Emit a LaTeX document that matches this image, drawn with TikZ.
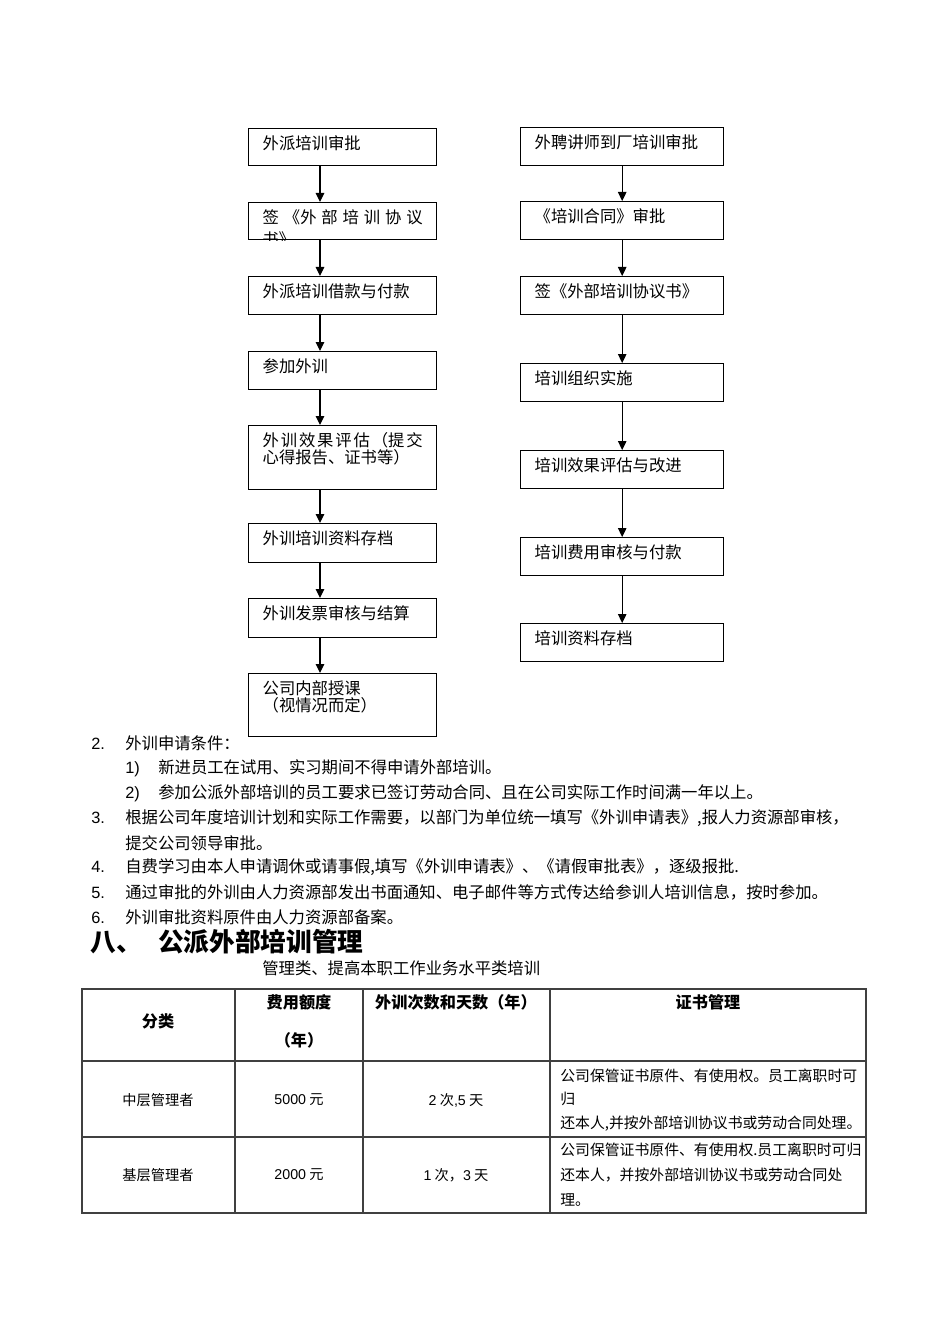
\documentclass[tikz,border=0pt]{standalone}
\usepackage{fontspec}
\setmainfont{Liberation Sans}
\newfontfamily\cjk{Noto Sans CJK SC}
\usetikzlibrary{arrows.meta, positioning}
\tikzset{
  box/.style={draw, line width=0.8pt, anchor=north west, inner xsep=0.28cm,
    inner ysep=0pt, font=\cjk\fontsize{9.3}{9.7}\selectfont},
  arrow/.style={-{Triangle[length=0.18cm, width=0.17cm]}, line width=0.7pt},
  body/.style={anchor=west, inner sep=0pt, font=\cjk\fontsize{9.3}{11}\selectfont},
  head/.style={anchor=west, inner sep=0pt, font=\cjk\bfseries\fontsize{14.6}{16}\selectfont},
  cell/.style={inner sep=0pt, font=\cjk\fontsize{8.1}{10}\selectfont},
  hcell/.style={inner sep=0pt, font=\cjk\bfseries\fontsize{9.2}{11}\selectfont},
  cert/.style={anchor=west, inner sep=0pt, font=\cjk\fontsize{8.45}{10}\selectfont},
  grid/.style={line width=0.8pt, color=black!75}
}
\newcommand{\boxtxt}[3]{\parbox[c][#2][t]{#1}{\rule{0pt}{0.41cm}#3}}
\newcommand{\lnum}[2]{\makebox[#1][l]{\rmfamily #2}}

\begin{document}
\begin{tikzpicture}[x=0.02cm, y=-0.02cm]
  \useasboundingbox (0,0) rectangle (950,1344);

  % outside training
  \node[box] (l1) at (248,128) {\boxtxt{3.2cm}{0.74cm}{外派培训审批}};
  \node[box] (l2) at (248,202) {\boxtxt{3.2cm}{0.74cm}{签\hfill{}《外\hfill{}部\hfill{}培\hfill{}训\hfill{}协\hfill{}议}};
  \begin{scope}
    \clip (l2.north west) rectangle (l2.south east);
    \node[body, anchor=base west] (l2b) at (262,246) {书》};
  \end{scope}
  \node[box] (l3) at (248,276) {\boxtxt{3.2cm}{0.76cm}{外派培训借款与付款}};
  \node[box] (l4) at (248,351) {\boxtxt{3.2cm}{0.76cm}{参加外训}};
  \node[box] (l5) at (248,425) {\boxtxt{3.2cm}{1.28cm}{外\hfill{}训\hfill{}效\hfill{}果\hfill{}评\hfill{}估\hfill{}（提\hfill{}交\\心得报告、证书等）}};
  \node[box] (l6) at (248,523) {\boxtxt{3.2cm}{0.78cm}{外训培训资料存档}};
  \node[box] (l7) at (248,598) {\boxtxt{3.2cm}{0.78cm}{外训发票审核与结算}};
  \node[box] (l8) at (248,673) {\boxtxt{3.2cm}{1.26cm}{公司内部授课\\（视情况而定）}};

  \coordinate (lx) at (320,0);
  \draw[arrow] (l1.south -| lx) -- (l2.north -| lx);
  \draw[arrow] (l2.south -| lx) -- (l3.north -| lx);
  \draw[arrow] (l3.south -| lx) -- (l4.north -| lx);
  \draw[arrow] (l4.south -| lx) -- (l5.north -| lx);
  \draw[arrow] (l5.south -| lx) -- (l6.north -| lx);
  \draw[arrow] (l6.south -| lx) -- (l7.north -| lx);
  \draw[arrow] (l7.south -| lx) -- (l8.north -| lx);

  % trainer invited in
  \node[box] (r1) at (520,127) {\boxtxt{3.5cm}{0.76cm}{外聘讲师到厂培训审批}};
  \node[box] (r2) at (520,201) {\boxtxt{3.5cm}{0.76cm}{《培训合同》审批}};
  \node[box] (r3) at (520,276) {\boxtxt{3.5cm}{0.76cm}{签《外部培训协议书》}};
  \node[box] (r4) at (520,363) {\boxtxt{3.5cm}{0.76cm}{培训组织实施}};
  \node[box] (r5) at (520,450) {\boxtxt{3.5cm}{0.76cm}{培训效果评估与改进}};
  \node[box] (r6) at (520,537) {\boxtxt{3.5cm}{0.76cm}{培训费用审核与付款}};
  \node[box] (r7) at (520,623) {\boxtxt{3.5cm}{0.76cm}{培训资料存档}};

  \draw[arrow] (r1) -- (r2);
  \draw[arrow] (r2) -- (r3);
  \draw[arrow] (r3) -- (r4);
  \draw[arrow] (r4) -- (r5);
  \draw[arrow] (r5) -- (r6);
  \draw[arrow] (r6) -- (r7);

  % conditions
  \node[body] (c2) at (91,743) {\lnum{0.68cm}{2.}外训申请条件：};
  \node[body] (c21) at (125,768) {\lnum{0.66cm}{1)}新进员工在试用、实习期间不得申请外部培训。};
  \node[body] (c22) at (125,793) {\lnum{0.66cm}{2)}参加公派外部培训的员工要求已签订劳动合同、且在公司实际工作时间满一年以上。};
  \node[body] (c3) at (91,818) {\lnum{0.68cm}{3.}根据公司年度培训计划和实际工作需要，以部门为单位统一填写《外训申请表》,报人力资源部审核，};
  \node[body] (c3b) at (125,843) {提交公司领导审批。};
  \node[body] (c4) at (91,867) {\lnum{0.68cm}{4.}自费学习由本人申请调休或请事假,填写《外训申请表》、《请假审批表》，逐级报批.};
  \node[body] (c5) at (91,892) {\lnum{0.68cm}{5.}通过审批的外训由人力资源部发出书面通知、电子邮件等方式传达给参训人培训信息，按时参加。};
  \node[body] (c6) at (91,917) {\lnum{0.68cm}{6.}外训审批资料原件由人力资源部备案。};

  % section 8
  \node[head] (h8) at (90,942) {\makebox[1.36cm][l]{八、}公派外部培训管理};
  \node[body] (sub) at (262,968) {管理类、提高本职工作业务水平类培训};

  % table
  \draw[grid] (82,989) rectangle (866,1213);
  \draw[grid] (235,989) -- (235,1213) (363,989) -- (363,1213) (550,989) -- (550,1213);
  \draw[grid] (82,1061) -- (866,1061) (82,1137) -- (866,1137);

  \node[hcell] (t11) at (158,1021) {分类};
  \node[hcell] (t12) at (299,1002) {费用额度};
  \node[hcell] (t12b) at (299,1040) {（年）};
  \node[hcell] (t13) at (456,1002) {外训次数和天数（年）};
  \node[hcell] (t14) at (708,1002) {证书管理};

  \node[cell] (t21) at (158,1100) {中层管理者};
  \node[cell] (t22) at (299,1100) {{\rmfamily 5000} 元};
  \node[cell] (t23) at (456,1100) {{\rmfamily 2} 次{\rmfamily ,5} 天};
  \node[cert] (t24) at (560,1076) {公司保管证书原件、有使用权。员工离职时可};
  \node[cert] (t24b) at (560,1099) {归};
  \node[cert] (t24c) at (560,1124) {还本人,并按外部培训协议书或劳动合同处理。};

  \node[cell] (t31) at (158,1175) {基层管理者};
  \node[cell] (t32) at (299,1175) {{\rmfamily 2000} 元};
  \node[cell] (t33) at (456,1175) {{\rmfamily 1} 次，{\rmfamily 3} 天};
  \node[cert] (t34) at (560,1150) {公司保管证书原件、有使用权.员工离职时可归};
  \node[cert] (t34b) at (560,1175) {还本人，并按外部培训协议书或劳动合同处};
  \node[cert] (t34c) at (560,1200) {理。};
\end{tikzpicture}
\end{document}
